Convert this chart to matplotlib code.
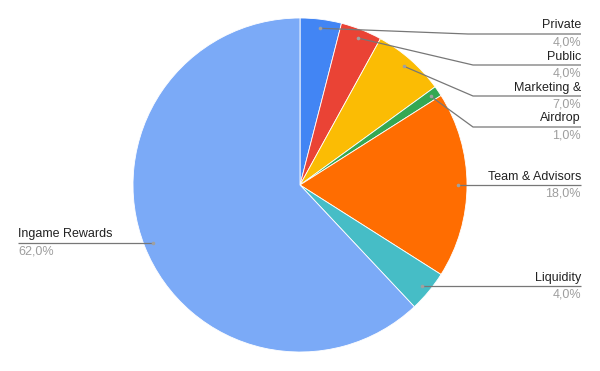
import numpy as np
import matplotlib.pyplot as plt

# Token allocation shares (%)
labels = ['Private', 'Public', 'Marketing &', 'Airdrop', 'Team & Advisors', 'Liquidity', 'Ingame Rewards']
values = [4.0, 4.0, 7.0, 1.0, 18.0, 4.0, 62.0]
colors = ['#4285F4', '#EA4335', '#FBBC04', '#34A853', '#FF6D01', '#46BDC6', '#7BAAF7']

# label layout (pixels): y of the horizontal leader, x where the kink sits
label_y = [34, 65, 96, 127, 185, 286, 243]
kink_x = [468, 473, 473, 473, None, None, None]

fig = plt.figure(figsize=(6, 3.71), dpi=100)
ax = fig.add_axes([0, 0, 1, 1])

cx, cy, R = 300, 185, 167
# y axis is flipped below, so start at -90 and go counterclockwise in data
# coords to get clockwise-from-top on screen
wedges, _ = ax.pie(values, colors=colors, startangle=-90, counterclock=True,
                   center=(cx, cy), radius=R, frame=True,
                   wedgeprops=dict(edgecolor='white', linewidth=0.6))
ax.set_xlim(0, 600)
ax.set_ylim(371, 0)
ax.set_aspect('equal')
ax.axis('off')

fnt = 'Liberation Sans'
for w, lab, val, ly, kx in zip(wedges, labels, values, label_y, kink_x):
    mid = np.deg2rad((w.theta1 + w.theta2) / 2)
    dx = cx + 0.946 * R * np.cos(mid)
    dy = cy + 0.946 * R * np.sin(mid)
    if dx > cx:
        xs = [dx, kx, 581] if kx else [dx, 581]
        ys = [dy, ly, ly] if kx else [ly, ly]
        tx, ha = 581, 'right'
    else:
        xs = [dx, 18]
        ys = [ly, ly]
        tx, ha = 18, 'left'
    ax.plot(xs, ys, color='#777777', lw=0.9, solid_capstyle='butt', zorder=3)
    ax.plot([dx], [dy], 'o', ms=2.6, color='#a0a0a0', mec='none', zorder=4)
    ax.text(tx, ly - 2.5, lab, ha=ha, va='bottom', fontsize=9, color='#222222', family=fnt)
    ax.text(tx, ly + 2.5, ('%.1f%%' % val).replace('.', ','), ha=ha, va='top',
            fontsize=9, color='#9e9e9e', family=fnt)

fig.patch.set_facecolor('white')
fig.savefig('out.png', dpi=100)
